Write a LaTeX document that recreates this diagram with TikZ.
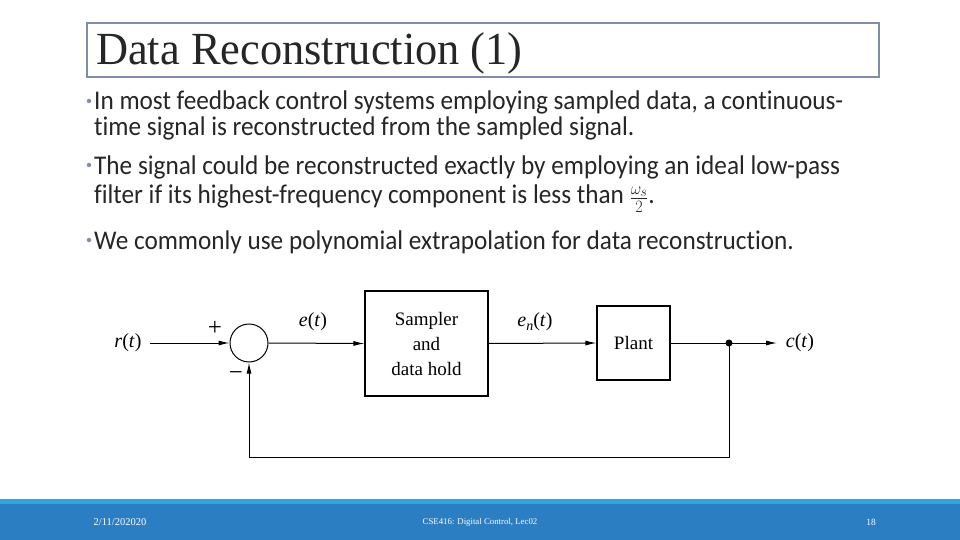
\documentclass[tikz,border=0pt]{standalone}
\usepackage{fontspec}
\usepackage{graphicx}
\setmainfont{Liberation Serif}
\newfontfamily\bodyfont[Ligatures=NoCommon]{Carlito}
\usetikzlibrary{arrows.meta}
\definecolor{titlebox}{HTML}{7F8CAC}
\definecolor{txt}{HTML}{262626}
\definecolor{bul}{HTML}{8090A8}
\definecolor{footA}{HTML}{2AA9E0}
\definecolor{footB}{HTML}{2B7EC2}
\newcommand{\bodytxt}[1]{\scalebox{0.935}[1]{#1}}
\tikzset{
  bodyline/.style={anchor=base west, inner sep=0pt, text=txt, font=\bodyfont\fontsize{27}{30}\selectfont},
  bulletdot/.style={circle, fill=bul, inner sep=0pt, minimum size=4.5pt},
  blockbox/.style={draw, line width=1.1pt, align=center, font=\fontsize{19}{25}\selectfont, inner sep=0pt},
  sig/.style={line width=1pt, -{Latex[length=11pt,width=5pt]}},
  wire/.style={line width=1pt},
  lbl/.style={font=\fontsize{20}{22}\selectfont, inner sep=0pt},
  sign/.style={font=\fontsize{25}{25}\selectfont, inner sep=0pt},
  foot/.style={text=white, inner sep=0pt}
}
\begin{document}
\begin{tikzpicture}[x=1pt,y=-1pt]
\useasboundingbox (0,0) rectangle (960,540);
\fill[white] (0,0) rectangle (960,540);
% title
\node[draw=titlebox, line width=2pt, minimum width=792pt, minimum height=54pt, anchor=north west, inner sep=0pt] (tbox) at (86,22) {};
\node[anchor=base west, inner sep=0pt, text=txt, font=\fontsize{46}{50}\selectfont] (title) at (96,65) {\scalebox{0.965}[1]{Data Reconstruction (1)}};
% bullets
\node[bulletdot] (b1) at (89,101) {};
\node[bodyline] (l1) at (94,110) {\bodytxt{In most feedback control systems employing sampled data, a continuous-}};
\node[bodyline] (l2) at (94,136) {\bodytxt{time signal is reconstructed from the sampled signal.}};
\node[bulletdot] (b2) at (89,165) {};
\node[bodyline] (l3) at (94,175) {\bodytxt{The signal could be reconstructed exactly by employing an ideal low-pass}};
\node[bodyline] (l4) at (94,204) {\bodytxt{filter if its highest-frequency component is less than $\frac{\omega_s}{2}$.}};
\node[bulletdot] (b3) at (89,240) {};
\node[bodyline] (l5) at (94,249) {\bodytxt{We commonly use polynomial extrapolation for data reconstruction.}};
% diagram
\node[lbl] (r) at (128,343) {\textit{r}(\textit{t})};
\node[draw, circle, line width=1pt, minimum size=38pt, inner sep=0pt] (sum) at (249,343) {};
\node[sign] (plus) at (215,328) {+};
\node[sign] (minus) at (236,376) {\textminus};
\node[blockbox, minimum width=123pt, minimum height=105pt] (samp) at (426.5,343.5) {Sampler\\and\\data hold};
\node[blockbox, minimum width=73pt, minimum height=74pt] (plant) at (633.5,343) {Plant};
\node[lbl] (e) at (313,322) {\textit{e}(\textit{t})};
\node[lbl] (en) at (535,322) {\textit{e}\raisebox{-0.35ex}{\fontsize{14}{14}\selectfont\textit{n}}(\textit{t})};
\node[lbl] (c) at (800,343) {\textit{c}(\textit{t})};
\coordinate (cl) at (777,343);
\node[circle, fill, inner sep=0pt, minimum size=7pt] (dot) at (729,343) {};
\coordinate (fb1) at (729,457);
\coordinate (fb2) at (249,457);
\draw[sig] (r.east) ++(8pt,0) -- (sum.west);
\draw[sig] (sum.east) -- (samp.west);
\draw[sig] (samp.east) -- (plant.west);
\draw[wire] (plant.east) -- (dot.center);
\draw[sig] (dot.center) -- (cl);
\draw[sig] (dot.center) -- (fb1) -- (fb2) -- (sum.south);
% footer
\fill[footB] (0,499) rectangle (960,540);
\fill[footA] (0,499) rectangle (960,504);
\node[foot, font=\fontsize{10.5}{11}\selectfont] (date) at (120,522) {2/11/202020};
\node[foot, font=\fontsize{8.8}{9}\selectfont] (course) at (480,522) {CSE416: Digital Control, Lec02};
\node[foot, font=\fontsize{9.5}{10}\selectfont] (page) at (871,522) {18};
\end{tikzpicture}
\end{document}
